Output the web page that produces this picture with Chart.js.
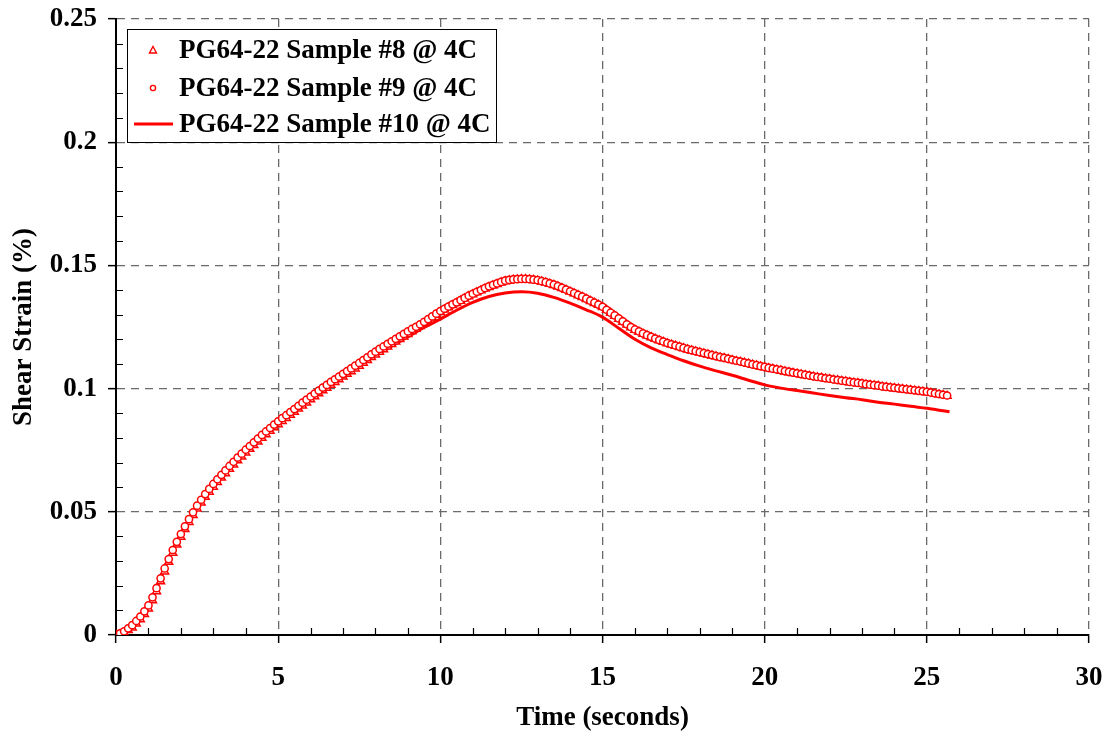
<!DOCTYPE html>
<html>
<head>
<meta charset="utf-8">
<title>Shear Strain vs Time</title>
<script src="https://cdn.jsdelivr.net/npm/chart.js@4.4.1/dist/chart.umd.min.js"></script>
<style>
  html, body { margin: 0; padding: 0; background: #fff; }
  #wrap { position: relative; width: 1109px; height: 739px; }
</style>
</head>
<body>
<div id="wrap"><canvas id="chart" width="1109" height="739"></canvas></div>
<script>
'use strict';

const X_TICKS = [0, 5, 10, 15, 20, 25, 30];
const Y_TICKS = [0, 0.05, 0.1, 0.15, 0.2, 0.25];
const LABELS = ['PG64-22 Sample #8 @ 4C', 'PG64-22 Sample #9 @ 4C', 'PG64-22 Sample #10 @ 4C'];

// sampling times (s) shared by samples #8 and #9, one row per second
const TIME_MARKED = [
  0, 0.125, 0.25, 0.375, 0.5, 0.625, 0.75, 0.875,
  1, 1.125, 1.25, 1.375, 1.5, 1.625, 1.75, 1.875,
  2, 2.125, 2.25, 2.375, 2.5, 2.625, 2.75, 2.875,
  3, 3.125, 3.25, 3.375, 3.5, 3.625, 3.75, 3.875,
  4, 4.125, 4.25, 4.375, 4.5, 4.625, 4.75, 4.875,
  5, 5.125, 5.25, 5.375, 5.5, 5.625, 5.75, 5.875,
  6, 6.125, 6.25, 6.375, 6.5, 6.625, 6.75, 6.875,
  7, 7.125, 7.25, 7.375, 7.5, 7.625, 7.75, 7.875,
  8, 8.125, 8.25, 8.375, 8.5, 8.625, 8.75, 8.875,
  9, 9.125, 9.25, 9.375, 9.5, 9.625, 9.75, 9.875,
  10, 10.125, 10.25, 10.375, 10.5, 10.625, 10.75, 10.875,
  11, 11.125, 11.25, 11.375, 11.5, 11.625, 11.75, 11.875,
  12, 12.125, 12.25, 12.375, 12.5, 12.625, 12.75, 12.875,
  13, 13.125, 13.25, 13.375, 13.5, 13.625, 13.75, 13.875,
  14, 14.125, 14.25, 14.375, 14.5, 14.625, 14.75, 14.875,
  15, 15.125, 15.25, 15.375, 15.5, 15.625, 15.75, 15.875,
  16, 16.125, 16.25, 16.375, 16.5, 16.625, 16.75, 16.875,
  17, 17.125, 17.25, 17.375, 17.5, 17.625, 17.75, 17.875,
  18, 18.125, 18.25, 18.375, 18.5, 18.625, 18.75, 18.875,
  19, 19.125, 19.25, 19.375, 19.5, 19.625, 19.75, 19.875,
  20, 20.125, 20.25, 20.375, 20.5, 20.625, 20.75, 20.875,
  21, 21.125, 21.25, 21.375, 21.5, 21.625, 21.75, 21.875,
  22, 22.125, 22.25, 22.375, 22.5, 22.625, 22.75, 22.875,
  23, 23.125, 23.25, 23.375, 23.5, 23.625, 23.75, 23.875,
  24, 24.125, 24.25, 24.375, 24.5, 24.625, 24.75, 24.875,
  25, 25.125, 25.25, 25.375, 25.5, 25.625
];

// sample #8 (triangles)
const STRAIN_S8 = [
  0.0000, 0.0003, 0.0009, 0.0019, 0.0030, 0.0046, 0.0063, 0.0084,
  0.0107, 0.0140, 0.0177, 0.0217, 0.0257, 0.0296, 0.0333, 0.0366,
  0.0398, 0.0429, 0.0458, 0.0486, 0.0513, 0.0537, 0.0560, 0.0581,
  0.0601, 0.0620, 0.0638, 0.0656, 0.0674, 0.0691, 0.0708, 0.0724,
  0.0740, 0.0755, 0.0770, 0.0785, 0.0800, 0.0814, 0.0828, 0.0842,
  0.0855, 0.0868, 0.0880, 0.0893, 0.0905, 0.0918, 0.0931, 0.0943,
  0.0956, 0.0968, 0.0980, 0.0992, 0.1003, 0.1015, 0.1026, 0.1037,
  0.1048, 0.1059, 0.1070, 0.1081, 0.1092, 0.1104, 0.1115, 0.1127,
  0.1138, 0.1149, 0.1159, 0.1170, 0.1180, 0.1190, 0.1200, 0.1211,
  0.1221, 0.1232, 0.1242, 0.1253, 0.1264, 0.1276, 0.1288, 0.1299,
  0.1310, 0.1320, 0.1329, 0.1338, 0.1347, 0.1356, 0.1365, 0.1374,
  0.1382, 0.1390, 0.1398, 0.1405, 0.1412, 0.1418, 0.1424, 0.1430,
  0.1435, 0.1438, 0.1441, 0.1442, 0.1443, 0.1443, 0.1442, 0.1440,
  0.1437, 0.1434, 0.1430, 0.1425, 0.1420, 0.1414, 0.1407, 0.1400,
  0.1393, 0.1386, 0.1378, 0.1371, 0.1363, 0.1355, 0.1347, 0.1339,
  0.1330, 0.1319, 0.1307, 0.1295, 0.1283, 0.1271, 0.1259, 0.1248,
  0.1238, 0.1230, 0.1222, 0.1215, 0.1208, 0.1201, 0.1195, 0.1189,
  0.1183, 0.1178, 0.1173, 0.1168, 0.1163, 0.1158, 0.1154, 0.1150,
  0.1146, 0.1142, 0.1138, 0.1134, 0.1130, 0.1126, 0.1123, 0.1119,
  0.1115, 0.1111, 0.1108, 0.1104, 0.1100, 0.1096, 0.1093, 0.1089,
  0.1086, 0.1082, 0.1079, 0.1076, 0.1073, 0.1069, 0.1066, 0.1063,
  0.1060, 0.1057, 0.1054, 0.1051, 0.1048, 0.1045, 0.1043, 0.1040,
  0.1038, 0.1035, 0.1033, 0.1030, 0.1028, 0.1025, 0.1023, 0.1021,
  0.1019, 0.1016, 0.1014, 0.1012, 0.1010, 0.1007, 0.1005, 0.1003,
  0.1001, 0.0999, 0.0997, 0.0995, 0.0993, 0.0991, 0.0989, 0.0987,
  0.0985, 0.0982, 0.0979, 0.0976, 0.0973, 0.0970
];

// sample #9 (circles)
const STRAIN_S9 = [
  0.0000, 0.0007, 0.0015, 0.0027, 0.0040, 0.0057, 0.0075, 0.0096,
  0.0120, 0.0153, 0.0190, 0.0230, 0.0270, 0.0308, 0.0345, 0.0378,
  0.0410, 0.0441, 0.0470, 0.0498, 0.0525, 0.0549, 0.0572, 0.0593,
  0.0613, 0.0632, 0.0650, 0.0668, 0.0686, 0.0703, 0.0720, 0.0736,
  0.0752, 0.0767, 0.0782, 0.0797, 0.0812, 0.0826, 0.0840, 0.0854,
  0.0867, 0.0880, 0.0892, 0.0905, 0.0917, 0.0930, 0.0943, 0.0955,
  0.0968, 0.0980, 0.0992, 0.1004, 0.1015, 0.1027, 0.1038, 0.1049,
  0.1060, 0.1071, 0.1082, 0.1093, 0.1104, 0.1116, 0.1127, 0.1139,
  0.1150, 0.1161, 0.1171, 0.1182, 0.1192, 0.1202, 0.1212, 0.1222,
  0.1232, 0.1242, 0.1251, 0.1261, 0.1271, 0.1282, 0.1293, 0.1304,
  0.1315, 0.1324, 0.1333, 0.1342, 0.1350, 0.1359, 0.1368, 0.1377,
  0.1385, 0.1393, 0.1400, 0.1408, 0.1415, 0.1421, 0.1427, 0.1433,
  0.1438, 0.1441, 0.1443, 0.1444, 0.1445, 0.1445, 0.1444, 0.1442,
  0.1440, 0.1436, 0.1432, 0.1427, 0.1422, 0.1416, 0.1409, 0.1402,
  0.1395, 0.1388, 0.1380, 0.1373, 0.1365, 0.1357, 0.1349, 0.1341,
  0.1332, 0.1320, 0.1308, 0.1297, 0.1285, 0.1273, 0.1261, 0.1250,
  0.1240, 0.1232, 0.1224, 0.1217, 0.1210, 0.1203, 0.1197, 0.1191,
  0.1185, 0.1180, 0.1175, 0.1170, 0.1165, 0.1160, 0.1156, 0.1152,
  0.1148, 0.1144, 0.1140, 0.1136, 0.1132, 0.1128, 0.1125, 0.1121,
  0.1117, 0.1113, 0.1110, 0.1106, 0.1102, 0.1098, 0.1095, 0.1091,
  0.1088, 0.1084, 0.1081, 0.1078, 0.1075, 0.1071, 0.1068, 0.1065,
  0.1062, 0.1059, 0.1056, 0.1053, 0.1050, 0.1047, 0.1045, 0.1042,
  0.1040, 0.1037, 0.1035, 0.1032, 0.1030, 0.1027, 0.1025, 0.1023,
  0.1021, 0.1018, 0.1016, 0.1014, 0.1012, 0.1009, 0.1007, 0.1005,
  0.1003, 0.1001, 0.0999, 0.0997, 0.0995, 0.0993, 0.0991, 0.0989,
  0.0987, 0.0984, 0.0981, 0.0978, 0.0975, 0.0972
];

// sample #10 (solid line)
const TIME_S10 = [
  0, 0.5, 1, 1.5, 2, 2.5, 3, 3.5, 4, 4.5,
  5, 5.5, 6, 6.5, 7, 7.5, 8, 8.5, 9, 9.5,
  10, 10.5, 11, 11.5, 12, 12.5, 13, 13.5, 14, 14.5,
  15, 15.5, 16, 16.5, 17, 17.5, 18, 18.5, 19, 19.5,
  20, 20.5, 21, 21.5, 22, 22.5, 23, 23.5, 24, 24.5,
  25, 25.5, 25.7
];
const STRAIN_S10 = [
  0.0000, 0.0040, 0.0120, 0.0270, 0.0410, 0.0520, 0.0605, 0.0680, 0.0748, 0.0810,
  0.0862, 0.0912, 0.0960, 0.1005, 0.1048, 0.1090, 0.1133, 0.1172, 0.1210, 0.1248,
  0.1282, 0.1318, 0.1350, 0.1374, 0.1388, 0.1393, 0.1387, 0.1370, 0.1347, 0.1320,
  0.1290, 0.1245, 0.1200, 0.1165, 0.1138, 0.1113, 0.1091, 0.1072, 0.1054, 0.1034,
  0.1015, 0.1002, 0.0992, 0.0982, 0.0972, 0.0963, 0.0955, 0.0945, 0.0937, 0.0928,
  0.0920, 0.0910, 0.0906
];

const RED = '#ff0000';
const FONT = "'Liberation Serif', 'Times New Roman', serif";

function pairs(xs, ys) {
  return ys.map((y, i) => ({ x: xs[i], y }));
}

// small inward ticks between the labelled ones
const innerTicks = {
  id: 'innerTicks',
  beforeDatasetsDraw(chart) {
    const { ctx, chartArea: a, scales: { x, y } } = chart;
    ctx.save();
    ctx.strokeStyle = '#000';
    ctx.lineWidth = 1.2;
    ctx.beginPath();
    for (let i = 1; i < 30; i++) {
      if (i % 5 === 0) continue;
      const px = Math.round(x.getPixelForValue(i)) + 0.5;
      ctx.moveTo(px, a.bottom);
      ctx.lineTo(px, a.bottom - 7);
    }
    for (let i = 1; i < 25; i++) {
      if (i % 5 === 0) continue;
      const py = Math.round(y.getPixelForValue(i / 100)) + 0.5;
      ctx.moveTo(a.left, py);
      ctx.lineTo(a.left + 7, py);
    }
    ctx.stroke();
    ctx.restore();
  }
};

// boxed legend in the top-left corner of the plot
const boxLegend = {
  id: 'boxLegend',
  afterDraw(chart) {
    const { ctx, chartArea: a } = chart;
    const left = a.left + 11, top = a.top + 10, w = 369, h = 113;
    ctx.save();
    ctx.fillStyle = '#fff';
    ctx.fillRect(left, top, w, h);
    ctx.strokeStyle = '#000';
    ctx.lineWidth = 1;
    ctx.strokeRect(left + 0.5, top + 0.5, w, h);

    const rows = [top + 21, top + 59, top + 95];
    const mx = left + 26;
    ctx.strokeStyle = RED;
    ctx.lineWidth = 1.4;
    // triangle
    ctx.beginPath();
    ctx.moveTo(mx, rows[0] - 3.5);
    ctx.lineTo(mx + 3.5, rows[0] + 3);
    ctx.lineTo(mx - 3.5, rows[0] + 3);
    ctx.closePath();
    ctx.stroke();
    // circle
    ctx.beginPath();
    ctx.arc(mx, rows[1], 2.6, 0, Math.PI * 2);
    ctx.stroke();
    // line
    ctx.lineWidth = 3;
    ctx.beginPath();
    ctx.moveTo(left + 7, rows[2]);
    ctx.lineTo(left + 46, rows[2]);
    ctx.stroke();

    ctx.fillStyle = '#000';
    ctx.font = 'bold 27px ' + FONT;
    ctx.textBaseline = 'middle';
    ctx.textAlign = 'left';
    LABELS.forEach((t, i) => ctx.fillText(t, left + 52, rows[i] + 1));
    ctx.restore();
  }
};

const tickFont = { family: FONT, size: 27, weight: 'bold' };

new Chart(document.getElementById('chart'), {
  type: 'scatter',
  data: {
    datasets: [
      {
        label: LABELS[0],
        data: pairs(TIME_MARKED, STRAIN_S8),
        showLine: false,
        pointStyle: 'triangle',
        pointRadius: 4.6,
        pointBorderWidth: 1.5,
        pointBorderColor: RED,
        pointBackgroundColor: '#fff',
        order: 2
      },
      {
        label: LABELS[1],
        data: pairs(TIME_MARKED, STRAIN_S9),
        showLine: false,
        pointStyle: 'circle',
        pointRadius: 3.6,
        pointBorderWidth: 1.5,
        pointBorderColor: RED,
        pointBackgroundColor: '#fff',
        order: 1
      },
      {
        label: LABELS[2],
        data: pairs(TIME_S10, STRAIN_S10),
        showLine: true,
        borderColor: RED,
        borderWidth: 3,
        pointRadius: 0,
        cubicInterpolationMode: 'monotone',
        order: 3
      }
    ]
  },
  options: {
    responsive: false,
    animation: false,
    devicePixelRatio: 1,
    layout: { padding: { top: 19, right: 20, bottom: 5, left: 8 } },
    plugins: {
      legend: { display: false },
      tooltip: { enabled: false }
    },
    scales: {
      x: {
        type: 'linear',
        min: 0,
        max: 30,
        afterBuildTicks: (s) => { s.ticks = X_TICKS.map((v) => ({ value: v })); },
        afterFit: (s) => { s.height = 99; s.paddingLeft = 0; s.paddingRight = 0; },
        ticks: { font: tickFont, color: '#000', padding: 19, maxRotation: 0 },
        grid: { color: '#6a6a6a', lineWidth: 1.3, tickLength: 8, tickColor: '#000', tickWidth: 1.5 },
        border: { display: true, color: '#000', width: 2, dash: [8, 6] },
        title: { display: true, text: 'Time (seconds)', font: tickFont, color: '#000', padding: 0 }
      },
      y: {
        type: 'linear',
        min: 0,
        max: 0.25,
        afterBuildTicks: (s) => { s.ticks = Y_TICKS.map((v) => ({ value: v })); },
        afterFit: (s) => { s.width = 108; s.paddingTop = 0; s.paddingBottom = 0; },
        ticks: { font: tickFont, color: '#000', padding: 11, callback: (v) => String(v) },
        grid: { color: '#6a6a6a', lineWidth: 1.3, tickLength: 8, tickColor: '#000', tickWidth: 1.5 },
        border: { display: true, color: '#000', width: 2, dash: [8, 6] },
        title: { display: true, text: 'Shear Strain (%)', font: tickFont, color: '#000', padding: 0 }
      }
    }
  },
  plugins: [innerTicks, boxLegend]
});
</script>
</body>
</html>
